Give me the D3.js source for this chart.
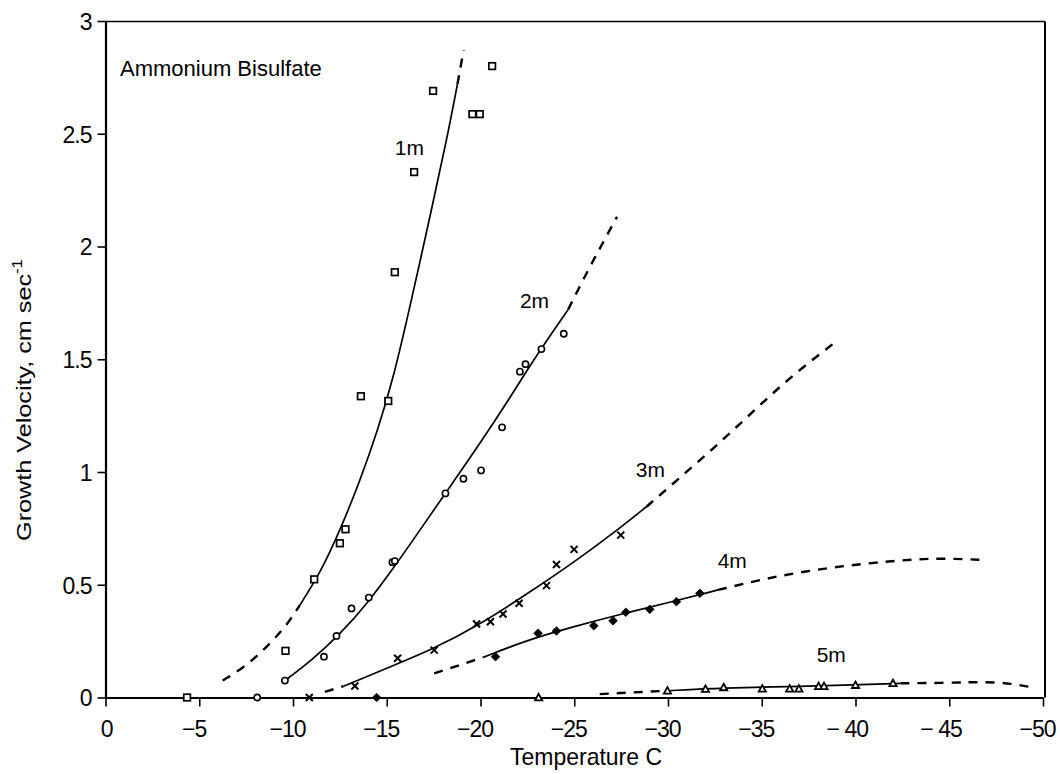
<!DOCTYPE html>
<html>
<head>
<meta charset="utf-8">
<script src="https://cdn.jsdelivr.net/npm/d3@7"></script>
<style>
  html, body { margin: 0; padding: 0; background: #fff; }
  svg { display: block; font-family: "Liberation Sans", Arial, Helvetica, sans-serif; }
</style>
</head>
<body>
<svg id="chart" width="1060" height="774"></svg>
<script>
// ---------- data (temperature °C, growth velocity cm/s) ----------
const xTicks = [0, -5, -10, -15, -20, -25, -30, -35, -40, -45, -50];
const xTickLabels = ["0", "\u22125", "\u221210", "\u221215", "\u221220", "\u221225", "\u221230", "\u221235", "\u2212 40", "\u2212 45", "\u221250"];
const yTicks = [0, 0.5, 1, 1.5, 2, 2.5, 3];
const yTickLabels = ["0", "0.5", "1", "1.5", "2", "2.5", "3"];

// measured points
const pts1m = [[-4.35,0],[-9.6,0.207],[-11.13,0.524],[-12.5,0.684],[-12.8,0.746],[-13.62,1.336],[-15.08,1.315],
               [-15.43,1.886],[-16.46,2.33],[-17.47,2.69],[-19.57,2.587],[-19.96,2.587],[-20.62,2.80]];
const pts2m = [[-8.09,0],[-9.57,0.075],[-11.65,0.181],[-12.32,0.273],[-13.12,0.395],[-14.04,0.443],[-15.3,0.60],
               [-15.43,0.605],[-18.13,0.905],[-19.09,0.970],[-20.03,1.007],[-21.15,1.198],[-22.1,1.445],
               [-22.4,1.478],[-23.25,1.545],[-24.44,1.613]];
const pts3m = [[-10.87,0],[-13.3,0.051],[-15.58,0.174],[-17.53,0.21],[-19.79,0.326],[-20.53,0.336],[-21.2,0.37],
               [-22.06,0.418],[-23.52,0.496],[-24.05,0.59],[-24.99,0.657],[-27.48,0.72]];
const pts4m = [[-14.46,0],[-20.8,0.181],[-23.07,0.285],[-24.05,0.295],[-26.04,0.318],[-27.07,0.34],[-27.75,0.378],
               [-29.03,0.391],[-30.45,0.425],[-31.7,0.462]];
const pts5m = [[-23.1,0],[-29.97,0.03],[-32.0,0.038],[-32.97,0.045],[-35.03,0.039],[-36.49,0.039],[-36.98,0.039],
               [-38.03,0.05],[-38.32,0.05],[-40.0,0.055],[-42.0,0.063]];

// fitted curves: solid parts and dashed extrapolations
const c1Dash1 = [[-6.25,0.075],[-7.17,0.122],[-8.06,0.181],[-8.86,0.247],[-9.66,0.32],[-10.37,0.41]];
const c1Solid = [[-10.37,0.41],[-11.5,0.56],[-12.5,0.74],[-13.57,0.96],[-14.5,1.18],[-15.4,1.43],
                 [-16.32,1.763],[-17.42,2.176],[-18.19,2.47],[-18.77,2.72]];
const c1Dash2 = [[-18.77,2.72],[-19.1,2.87]];

const c2Solid = [[-9.57,0.075],[-11.0,0.165],[-12.5,0.28],[-14.0,0.42],[-15.5,0.59],[-17.0,0.77],[-18.5,0.95],
                 [-20.0,1.13],[-21.5,1.32],[-23.0,1.52],[-24.67,1.72]];
const c2Dash  = [[-24.67,1.72],[-25.29,1.822],[-25.79,1.903],[-26.27,1.977],[-26.75,2.051],[-27.28,2.132]];

const c3Dash1 = [[-11.7,0.025],[-12.7,0.05]];
const c3Solid = [[-12.7,0.05],[-15.0,0.13],[-17.5,0.215],[-20.0,0.325],[-22.5,0.46],[-25.0,0.6],
                 [-27.5,0.755],[-28.85,0.846]];
const c3Dash2 = [[-28.85,0.846],[-30.5,0.965],[-32.5,1.11],[-34.5,1.265],[-36.5,1.42],[-38.8,1.568]];

const c4Dash1 = [[-17.53,0.107],[-20.14,0.178]];
const c4Solid = [[-20.14,0.178],[-22.5,0.255],[-25.0,0.315],[-27.5,0.37],[-30.0,0.42],[-32.67,0.477]];
const c4Dash2 = [[-32.67,0.477],[-35.25,0.529],[-37.9,0.568],[-40.6,0.595],[-43.2,0.614],[-44.7,0.617],[-46.9,0.61]];

const c5Dash1 = [[-26.36,0.015],[-29.97,0.03]];
const c5Solid = [[-29.97,0.03],[-32.97,0.043],[-36.5,0.048],[-40.0,0.056],[-42.4,0.063]];
const c5Dash2 = [[-42.4,0.063],[-45.0,0.065],[-47.06,0.07],[-48.3,0.062],[-49.45,0.045]];

const seriesLabels = [["1m",-15.43,2.406],["2m",-22.1,1.727],["3m",-28.28,0.977],["4m",-32.65,0.573],["5m",-37.93,0.157]];

// ---------- layout ----------
const svg = d3.select("#chart");
const x = d3.scaleLinear().domain([0, -50]).range([105.5, 1043]);
const y = d3.scaleLinear().domain([0, 3]).range([697.5, 21]);

// frame
svg.append("line").attr("x1", 105.5).attr("x2", 1045).attr("y1", 21.5).attr("y2", 21.5)
  .attr("stroke", "#000").attr("stroke-width", 1.5);
svg.append("line").attr("x1", 1045).attr("x2", 1045).attr("y1", 21.5).attr("y2", 697.5)
  .attr("stroke", "#000").attr("stroke-width", 2);

// axes
const gx = svg.append("g").attr("transform", `translate(0,${y(0)})`)
  .call(d3.axisBottom(x).tickValues(xTicks).tickSize(9).tickSizeOuter(0)
        .tickFormat((d, i) => xTickLabels[i]));
const gy = svg.append("g").attr("transform", `translate(${x(0)},0)`)
  .call(d3.axisLeft(y).tickValues(yTicks).tickSize(8).tickSizeOuter(0)
        .tickFormat((d, i) => yTickLabels[i]));

[gx, gy].forEach(g => {
  g.select(".domain").attr("stroke", "#000").attr("stroke-width", 2.2);
  g.selectAll(".tick line").attr("stroke", "#000").attr("stroke-width", 1.6);
  g.selectAll(".tick text").attr("fill", "#000").attr("font-size", 23)
    .attr("font-family", '"Liberation Sans", Arial, sans-serif').style("letter-spacing", "-1px");
});
gx.selectAll(".tick text")
  .attr("text-anchor", "end").attr("dy", null).attr("y", 39)
  .attr("x", (d, i) => {
    const digits = xTickLabels[i].replace(/[^0-9]/g, "").length;
    return digits * 5.5 + 1;
  });
gy.selectAll(".tick text").attr("x", -14).attr("dy", "0.36em");

// curves
const line = d3.line().x(d => x(d[0])).y(d => y(d[1])).curve(d3.curveBasis);
const solids = [c1Solid, c2Solid, c3Solid, c4Solid, c5Solid];
const dashes = [c1Dash1, c1Dash2, c2Dash, c3Dash1, c3Dash2, c4Dash1, c4Dash2, c5Dash1, c5Dash2];
svg.append("g").selectAll("path").data(solids).join("path")
  .attr("d", line).attr("fill", "none").attr("stroke", "#000").attr("stroke-width", 1.7);
svg.append("g").selectAll("path").data(dashes).join("path")
  .attr("d", line).attr("fill", "none").attr("stroke", "#000").attr("stroke-width", 2.4)
  .attr("stroke-dasharray", "9,8");

// markers
const mk = svg.append("g");
mk.selectAll("rect.s1").data(pts1m).join("rect").attr("class", "s1")
  .attr("x", d => x(d[0]) - 3.3).attr("y", d => y(d[1]) - 3.3)
  .attr("width", 6.6).attr("height", 6.6).attr("fill", "#fff").attr("stroke", "#000").attr("stroke-width", 1.7);
mk.selectAll("circle.s2").data(pts2m).join("circle").attr("class", "s2")
  .attr("cx", d => x(d[0])).attr("cy", d => y(d[1])).attr("r", 3.1)
  .attr("fill", "#fff").attr("stroke", "#000").attr("stroke-width", 1.6);
mk.selectAll("path.s3").data(pts3m).join("path").attr("class", "s3")
  .attr("d", d => { const cx = x(d[0]), cy = y(d[1]), s = 3.5;
    return `M${cx-s},${cy-s}L${cx+s},${cy+s}M${cx-s},${cy+s}L${cx+s},${cy-s}`; })
  .attr("stroke", "#000").attr("stroke-width", 2);
mk.selectAll("path.s4").data(pts4m).join("path").attr("class", "s4")
  .attr("d", d => { const cx = x(d[0]), cy = y(d[1]), s = 4.3;
    return `M${cx},${cy-s}L${cx+s},${cy}L${cx},${cy+s}L${cx-s},${cy}Z`; })
  .attr("fill", "#000").attr("stroke", "#000").attr("stroke-width", 0.8);
mk.selectAll("path.s5").data(pts5m).join("path").attr("class", "s5")
  .attr("d", d => { const cx = x(d[0]), cy = y(d[1]), s = 3.6;
    return `M${cx},${cy-s}L${cx+s},${cy+s*0.8}L${cx-s},${cy+s*0.8}Z`; })
  .attr("fill", "#fff").attr("stroke", "#000").attr("stroke-width", 1.8);

// series labels
svg.append("g").selectAll("text").data(seriesLabels).join("text")
  .attr("x", d => x(d[1])).attr("y", d => y(d[2]))
  .attr("font-size", 21).attr("fill", "#000").text(d => d[0]);

// annotation
svg.append("text").attr("x", 120).attr("y", 76).attr("font-size", 22).attr("fill", "#000")
  .text("Ammonium Bisulfate");

// axis titles
svg.append("text").attr("x", 586).attr("y", 765).attr("font-size", 24).attr("fill", "#000")
  .attr("text-anchor", "middle").attr("textLength", 152).attr("lengthAdjust", "spacingAndGlyphs")
  .text("Temperature C");

const yt = svg.append("text").attr("transform", "translate(31,400) rotate(-90) scale(1.2,1)")
  .attr("font-size", 21).attr("fill", "#000").attr("text-anchor", "middle");
yt.append("tspan").text("Growth Velocity, cm sec");
yt.append("tspan").attr("font-size", 14).attr("dy", -9).text("-1");
</script>
</body>
</html>
